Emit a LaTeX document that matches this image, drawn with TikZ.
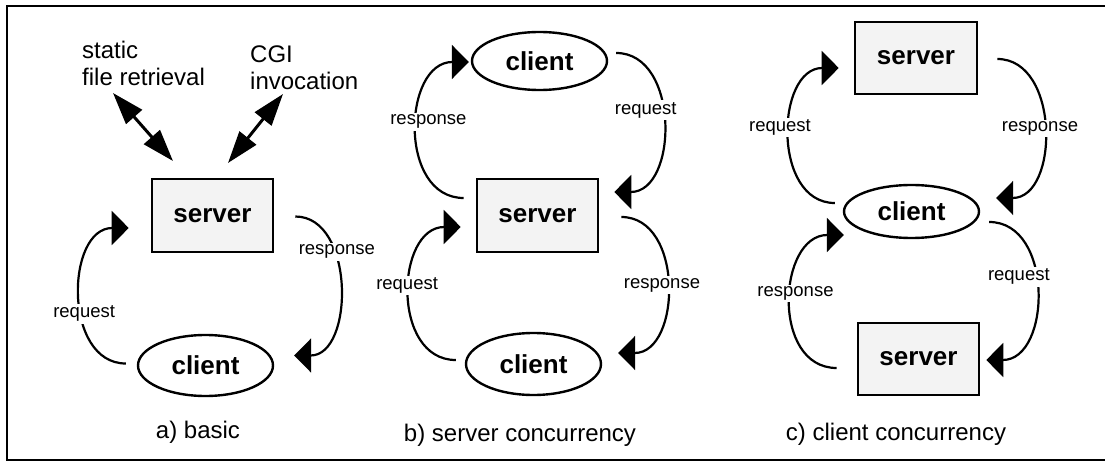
\documentclass[tikz,border=0pt]{standalone}
\usepackage{fontspec}
\setmainfont{Liberation Sans}
\usetikzlibrary{arrows.meta,shapes.geometric,calc}
\definecolor{boxgray}{RGB}{243,243,243}
\tikzset{
  srvbox/.style={draw, line width=2.6pt, fill=boxgray, minimum width=121pt,
    minimum height=73pt, inner sep=0pt, font=\bfseries\fontsize{26}{30}\selectfont},
  cliov/.style={draw, ellipse, line width=2.4pt, minimum width=135pt,
    minimum height=61pt, inner sep=0pt, font=\bfseries\fontsize{26}{30}\selectfont},
  flow/.style={line width=2.2pt, -{Triangle[length=17pt,width=34pt]}},
  lbl/.style={fill=white, inner sep=2pt, font=\fontsize{18.5}{22}\selectfont},
  caption/.style={anchor=base, inner sep=0pt, font=\fontsize{24}{27}\selectfont},
  txt/.style={anchor=base west, align=left, inner sep=0pt, font=\fontsize{24}{27}\selectfont},
  duplex/.style={line width=3pt,
    {Triangle[length=32pt,width=21pt]}-{Triangle[length=32pt,width=21pt]}}
}
\begin{document}
\begin{tikzpicture}[x=1pt,y=-1pt]
\useasboundingbox (0,0) rectangle (1105,462);
% outer frame (open on the right)
\draw[line width=2.7pt] (1106,6) -- (7,6) -- (7,460) -- (1106,460);

% ---------- a) basic ----------
\node[srvbox] (sa) at (212.5,215.5) {server};
\node[cliov] (ca) at (205.5,365.5) {client};
% base anchor of a two-line node sits on its last line
\node[txt] (sfr) at (82,85.5) {static\\file retrieval};
\node[txt] (cgi) at (250,90) {CGI\\invocation};
\coordinate (sfrend) at (113,93);
\coordinate (sfrsrv) at (173,161);
\coordinate (cgiend) at (283,94);
\coordinate (cgisrv) at (228,163);
\draw[duplex] (sfrend) -- (sfrsrv);
\draw[duplex] (cgiend) -- (cgisrv);
\draw[flow] ($(sa.east)+(21,1)$) .. controls +(60,0) and +(60,0) ..
  ($(ca.east)+(20,-10)$) node[lbl,pos=0.33,xshift=2pt] {response};
\draw[flow] ($(ca.west)+(-11,-2)$) .. controls +(-63,0) and +(-63,0) ..
  ($(sa.west)+(-22,12.5)$) node[lbl,pos=0.41,xshift=3pt] {request};
\node[caption] (capa) at (198,438) {a) basic};

% ---------- b) server concurrency ----------
\node[cliov, minimum height=58pt] (cb1) at (539.5,61) {client};
\node[srvbox] (sb) at (537.5,215.5) {server};
\node[cliov, minimum height=62pt] (cb2) at (533.5,364) {client};
\draw[flow] ($(sb.west)+(-12,-17.5)$) .. controls +(-66,0) and +(-66,0) ..
  ($(cb1.west)+(-2,1)$) node[lbl,pos=0.54,xshift=11pt] {response};
\draw[flow] ($(cb1.east)+(8,-8)$) .. controls +(64,0) and +(64,0) ..
  ($(sb.east)+(15,-23.5)$) node[lbl,pos=0.44,xshift=-17pt] {request};
\draw[flow] ($(cb2.west)+(-9,-4)$) .. controls +(-65,0) and +(-65,0) ..
  ($(sb.west)+(-15,11.5)$) node[lbl,pos=0.54,xshift=-3pt] {request};
\draw[flow] ($(sb.east)+(22,1.5)$) .. controls +(63,0) and +(63,0) ..
  ($(cb2.east)+(16,-11)$) node[lbl,pos=0.5,xshift=-5pt] {response};
\node[caption] (capb) at (520,441) {b) server concurrency};

% ---------- c) client concurrency ----------
\node[srvbox, minimum width=122pt, minimum height=72pt] (sc1) at (916,58) {server};
\node[cliov, minimum height=53pt] (cc) at (911.5,211.5) {client};
\node[srvbox, minimum height=72pt] (sc2) at (918.5,359) {server};
\draw[flow] ($(cc.west)+(-8,-8.5)$) .. controls +(-63,0) and +(-63,0) ..
  ($(sc1.west)+(-15,10)$) node[lbl,pos=0.54,xshift=-10pt] {request};
\draw[flow] ($(sc1.east)+(19,1)$) .. controls +(63,0) and +(63,0) ..
  ($(cc.east)+(16,-13.5)$) node[lbl,pos=0.5,xshift=-4pt] {response};
\draw[flow] ($(sc2.west)+(-20,9)$) .. controls +(-66,0) and +(-66,0) ..
  ($(cc.west)+(1,23.5)$) node[lbl,pos=0.54,xshift=4pt] {response};
\draw[flow] ($(cc.east)+(9,10.5)$) .. controls +(65,0) and +(65,0) ..
  ($(sc2.east)+(6,1)$) node[lbl,pos=0.43,xshift=-17pt] {request};
\node[caption] (capc) at (896,440) {c) client concurrency};
\end{tikzpicture}
\end{document}
